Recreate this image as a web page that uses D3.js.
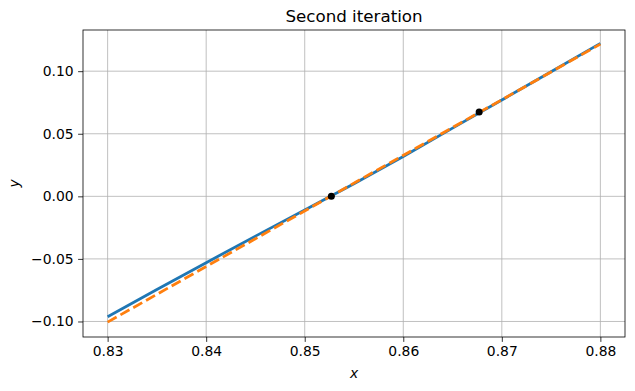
<!DOCTYPE html>
<html>
<head>
<meta charset="utf-8">
<script src="https://cdn.jsdelivr.net/npm/d3@7"></script>
<style>
  body { margin: 0; background: #fff; }
  svg { display: block; font-family: "DejaVu Sans", sans-serif; }
</style>
</head>
<body>
<div id="chart"></div>
<script>
// values
const curveX = [0.83, 0.835, 0.84, 0.845, 0.85, 0.855, 0.86, 0.865, 0.87, 0.875, 0.88];
const curveY = [-0.0962, -0.0745, -0.0530, -0.0318, -0.0110, 0.0100, 0.0318, 0.0545, 0.0770, 0.0995, 0.1222];
const tangentX = [0.83, 0.88];
const tangentY = [-0.1005, 0.1216];
const pointX = [0.8527, 0.8677];
const pointY = [0.0, 0.0673];
const xTicks = [0.83, 0.84, 0.85, 0.86, 0.87, 0.88];
const yTicks = [-0.10, -0.05, 0.00, 0.05, 0.10];

const W = 635, H = 391;
const margin = {top: 30, right: 10, bottom: 54, left: 83};
const width = W - margin.left - margin.right,
    height = H - margin.top - margin.bottom;

const svg = d3.select("#chart").append("svg")
    .attr("width", W)
    .attr("height", H);

const g = svg.append("g")
    .attr("transform", "translate(" + margin.left + "," + margin.top + ")");

const x = d3.scaleLinear().domain([0.8275, 0.8825]).range([0, width]);
const y = d3.scaleLinear().domain([-0.1124, 0.1329]).range([height, 0]);

// grid
g.append("g").selectAll("line").data(xTicks).enter().append("line")
    .attr("x1", d => x(d)).attr("x2", d => x(d))
    .attr("y1", 0).attr("y2", height)
    .attr("stroke", "#b0b0b0").attr("stroke-width", 0.8);
g.append("g").selectAll("line").data(yTicks).enter().append("line")
    .attr("y1", d => y(d)).attr("y2", d => y(d))
    .attr("x1", 0).attr("x2", width)
    .attr("stroke", "#b0b0b0").attr("stroke-width", 0.8);

const line = d3.line().x(d => x(d[0])).y(d => y(d[1]));

g.append("path")
    .datum(d3.zip(curveX, curveY))
    .attr("d", line)
    .attr("fill", "none")
    .attr("stroke", "#1f77b4")
    .attr("stroke-width", 2.8);

g.append("path")
    .datum(d3.zip(tangentX, tangentY))
    .attr("d", line)
    .attr("fill", "none")
    .attr("stroke", "#ff7f0e")
    .attr("stroke-width", 2.8)
    .attr("stroke-dasharray", "10.3,4.4");

g.append("g").selectAll("circle").data(d3.zip(pointX, pointY)).enter().append("circle")
    .attr("cx", d => x(d[0]))
    .attr("cy", d => y(d[1]))
    .attr("r", 3.5)
    .attr("fill", "#000");

// axes
const xAxis = g.append("g")
    .attr("transform", "translate(0," + height + ")")
    .call(d3.axisBottom(x).tickValues(xTicks).tickFormat(d3.format(".2f")).tickSize(4.9).tickPadding(4.5));
const yAxis = g.append("g")
    .call(d3.axisLeft(y).tickValues(yTicks).tickFormat(d => d3.format(".2f")(d).replace("-", "\u2212")).tickSize(4.9).tickPadding(4.5));

[xAxis, yAxis].forEach(a => {
    a.select(".domain").remove();
    a.selectAll(".tick line").attr("stroke", "#000").attr("stroke-width", 0.8);
    a.selectAll("text").attr("font-size", 13.9).attr("fill", "#000").attr("font-family", "DejaVu Sans");
});

// frame
g.append("rect")
    .attr("width", width).attr("height", height)
    .attr("fill", "none").attr("stroke", "#000").attr("stroke-width", 0.8);

// title and labels
svg.append("text")
    .attr("x", margin.left + width / 2).attr("y", 21.5)
    .attr("text-anchor", "middle")
    .attr("font-size", 16.7)
    .text("Second iteration");

svg.append("text")
    .attr("x", margin.left + width / 2).attr("y", 378)
    .attr("text-anchor", "middle")
    .attr("font-size", 13.9)
    .attr("font-style", "italic")
    .text("x");

svg.append("text")
    .attr("transform", "translate(19," + (margin.top + height / 2) + ") rotate(-90)")
    .attr("text-anchor", "middle")
    .attr("font-size", 13.9)
    .attr("font-style", "italic")
    .text("y");
</script>
</body>
</html>
